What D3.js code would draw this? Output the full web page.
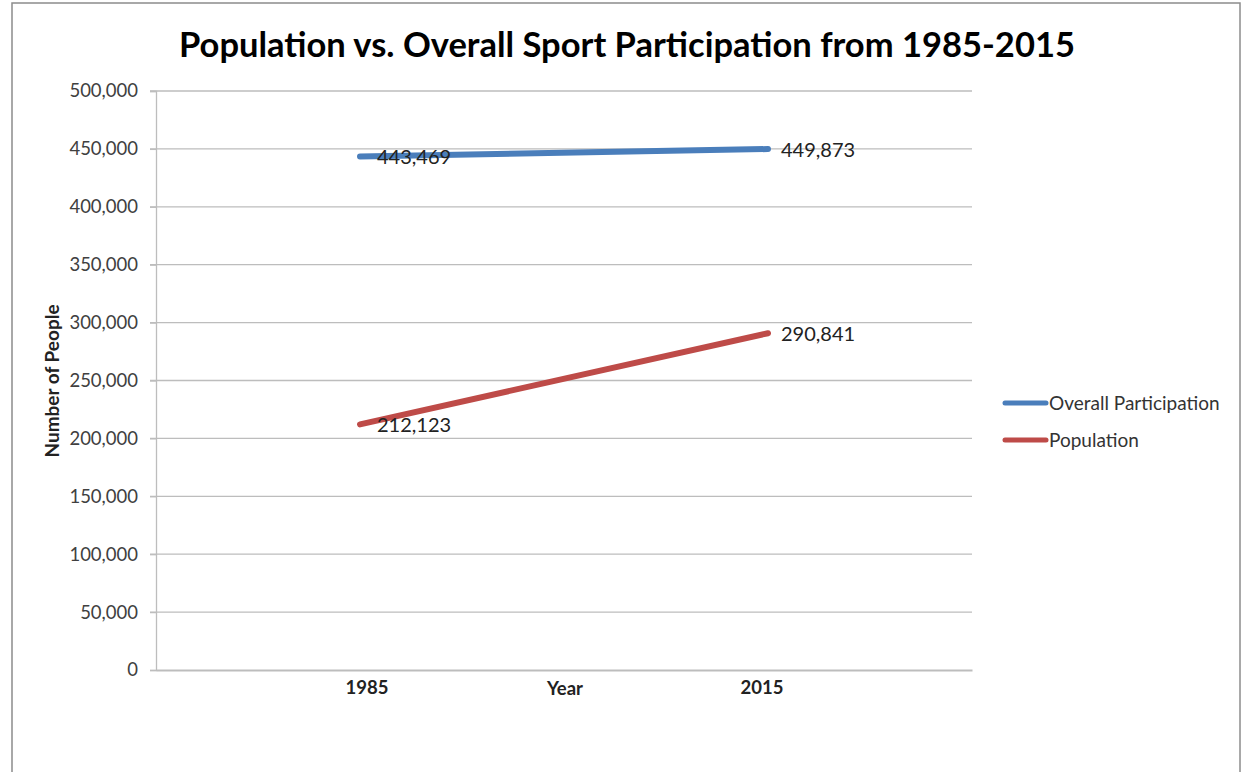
<!DOCTYPE html>
<html><head><meta charset="utf-8">
<script src="https://cdn.jsdelivr.net/npm/d3@7"></script>
<style>body{margin:0;background:#fff}svg{display:block}</style>
</head><body>
<svg id="c" width="1243" height="772"></svg>
<script>
const years = ["1985", "2015"];
const seriesNames = ["Overall Participation", "Population"];
const participation = [443469, 449873];
const population = [212123, 290841];
const yTicks = [0, 50000, 100000, 150000, 200000, 250000, 300000, 350000, 400000, 450000, 500000];
const colors = ["#4a7ebb", "#be4b48"];

const svg = d3.select("#c");
const font = "Lato, 'Open Sans', sans-serif";

// frame
svg.append("rect").attr("x", 12).attr("y", 3).attr("width", 1228).attr("height", 800)
  .attr("fill", "#fff").attr("stroke", "#8c8c8c").attr("stroke-width", 1.5);

const m = {left: 156, right: 972, top: 91, bottom: 670};
const x = d3.scaleBand().domain(years).range([m.left, m.right]);
const y = d3.scaleLinear().domain([0, 500000]).range([m.bottom, m.top]);

// gridlines
svg.append("g").selectAll("line").data(yTicks.filter(d => d > 0)).join("line")
  .attr("x1", m.left - 6).attr("x2", m.right)
  .attr("y1", d => y(d)).attr("y2", d => y(d))
  .attr("stroke", "#bdbdbd").attr("stroke-width", 1.3);

// y axis
const yAxis = svg.append("g").attr("transform", `translate(${m.left},0)`)
  .call(d3.axisLeft(y).tickValues(yTicks).tickSize(6).tickPadding(12).tickFormat(d3.format(",")));
yAxis.select(".domain").attr("stroke", "#bdbdbd").attr("stroke-width", 1.3);
yAxis.selectAll(".tick line").attr("stroke", "#bdbdbd").attr("stroke-width", 1.3);
yAxis.selectAll("text").attr("font-family", font).attr("font-size", 18.5).attr("fill", "#404040");

// x axis
const xAxis = svg.append("g").attr("transform", `translate(0,${m.bottom})`)
  .call(d3.axisBottom(x).tickSize(0).tickPadding(11));
xAxis.select(".domain").attr("stroke", "#bdbdbd").attr("stroke-width", 2);
xAxis.selectAll("text").attr("font-family", font).attr("font-size", 18.5).attr("font-weight", "bold").attr("fill", "#222")
  .attr("dx", (d, i) => i === 0 ? 7 : -6);

// axis titles
svg.append("text").attr("x", 565).attr("y", 695).attr("text-anchor", "middle")
  .attr("font-family", font).attr("font-size", 18.5).attr("font-weight", "bold").attr("fill", "#222").text("Year");
svg.append("text").attr("transform", "translate(59,381) rotate(-90)").attr("text-anchor", "middle")
  .attr("font-family", font).attr("font-size", 19).attr("font-weight", "bold").attr("fill", "#222").text("Number of People");

// title
svg.append("text").attr("x", 627).attr("y", 57).attr("text-anchor", "middle")
  .attr("font-family", font).attr("font-size", 34.5).attr("font-weight", "bold").attr("fill", "#000")
  .text("Population vs. Overall Sport Participation from 1985-2015");

// lines
const series = [participation, population];
const cx = d => x(d) + x.bandwidth() / 2;
const line = d3.line().x((d, i) => cx(years[i])).y(d => y(d));
series.forEach((s, k) => {
  svg.append("path").datum(s).attr("d", line).attr("fill", "none")
    .attr("stroke", colors[k]).attr("stroke-width", 6).attr("stroke-linecap", "round");
  svg.append("g").selectAll("text").data(s).join("text")
    .attr("x", (d, i) => cx(years[i]) + (i === 0 ? 17 : 13)).attr("y", d => y(d) + 8)
    .attr("font-family", font).attr("font-size", 20).attr("fill", "#222")
    .text(d => d3.format(",")(d));
});

// legend
seriesNames.forEach((n, k) => {
  const ly = 403 + k * 37;
  svg.append("line").attr("x1", 1005).attr("x2", 1046).attr("y1", ly).attr("y2", ly)
    .attr("stroke", colors[k]).attr("stroke-width", 5).attr("stroke-linecap", "round");
  svg.append("text").attr("x", 1049).attr("y", ly + 7).attr("font-family", font).attr("font-size", 19)
    .attr("fill", "#333").text(n);
});
</script>
</body></html>
